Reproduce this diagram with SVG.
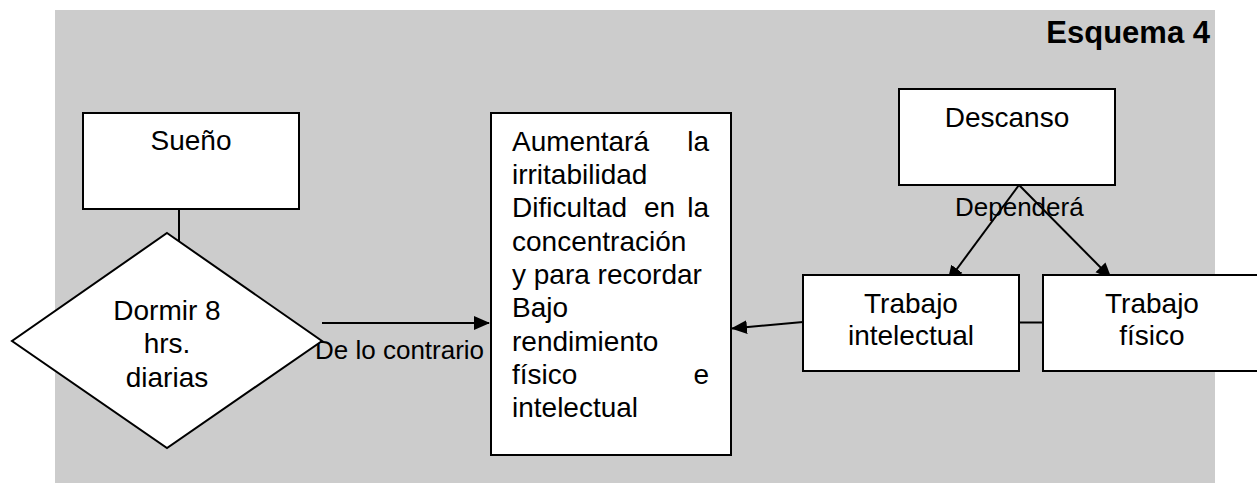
<svg xmlns="http://www.w3.org/2000/svg" width="1257" height="483" viewBox="0 0 1257 483">
<style>
.box{fill:#fff;stroke:#000;stroke-width:2}
.t{font-family:"Liberation Sans",Arial,sans-serif;font-size:28px;fill:#000}
.c{text-anchor:middle}
.e{text-anchor:end}
.lbl{font-family:"Liberation Sans",Arial,sans-serif;font-size:26px;fill:#000}
.title{font-family:"Liberation Sans",Arial,sans-serif;font-size:31px;font-weight:bold;fill:#000;text-anchor:end}
.ln{stroke:#000;stroke-width:2;fill:none}
</style>
<defs>
<marker id="ah" viewBox="0 0 16 16" refX="15" refY="8" markerWidth="16" markerHeight="16" markerUnits="userSpaceOnUse" orient="auto">
<path d="M0,1 L16,8 L0,15 Z" fill="#000"/>
</marker>
</defs>
<rect x="55" y="10" width="1160" height="480" fill="#cccccc"/>
<text class="title" x="1210" y="43">Esquema 4</text>

<g id="connectors">
<line class="ln" x1="179" y1="209" x2="179" y2="241"/>
<line class="ln" x1="322" y1="323" x2="489" y2="323" marker-end="url(#ah)"/>
<line class="ln" x1="803" y1="322" x2="732" y2="328.5" marker-end="url(#ah)"/>
<line class="ln" x1="1019" y1="185" x2="948" y2="281" marker-end="url(#ah)"/>
<line class="ln" x1="1019" y1="185" x2="1111" y2="278" marker-end="url(#ah)"/>
<line class="ln" x1="1019" y1="322.5" x2="1043" y2="322.5"/>
<text class="lbl" x="315" y="359">De lo contrario</text>
<text class="lbl" x="955" y="216">Dependerá</text>
</g>

<g id="sueno">
<rect class="box" x="83" y="113" width="216" height="96"/>
<text class="t c" x="191" y="150">Sueño</text>
</g>

<g id="dormir">
<polygon class="box" points="167,233 322,341 167,448 12,341"/>
<text class="t c" x="167" y="320">Dormir 8</text>
<text class="t c" x="167" y="353">hrs.</text>
<text class="t c" x="167" y="387">diarias</text>
</g>

<g id="efectos">
<rect class="box" x="491" y="113" width="240" height="342"/>
<text class="t" x="512" y="151">Aumentará</text>
<text class="t e" x="709" y="151">la</text>
<text class="t" x="512" y="184">irritabilidad</text>
<text class="t" x="512" y="217">Dificultad</text>
<text class="t" x="644" y="217">en</text>
<text class="t e" x="709" y="217">la</text>
<text class="t" x="512" y="251">concentración</text>
<text class="t" x="512" y="284">y para recordar</text>
<text class="t" x="512" y="317">Bajo</text>
<text class="t" x="512" y="351">rendimiento</text>
<text class="t" x="512" y="384">físico</text>
<text class="t e" x="709" y="384">e</text>
<text class="t" x="512" y="417">intelectual</text>
</g>

<g id="descanso">
<rect class="box" x="899" y="89" width="216" height="96"/>
<text class="t c" x="1007" y="127">Descanso</text>
</g>

<g id="trabajo-intelectual">
<rect class="box" x="803" y="275" width="216" height="96"/>
<text class="t c" x="911" y="313">Trabajo</text>
<text class="t c" x="911" y="345">intelectual</text>
</g>

<g id="trabajo-fisico">
<rect class="box" x="1043" y="275" width="218" height="96"/>
<text class="t c" x="1152" y="313">Trabajo</text>
<text class="t c" x="1152" y="345">físico</text>
</g>
</svg>
